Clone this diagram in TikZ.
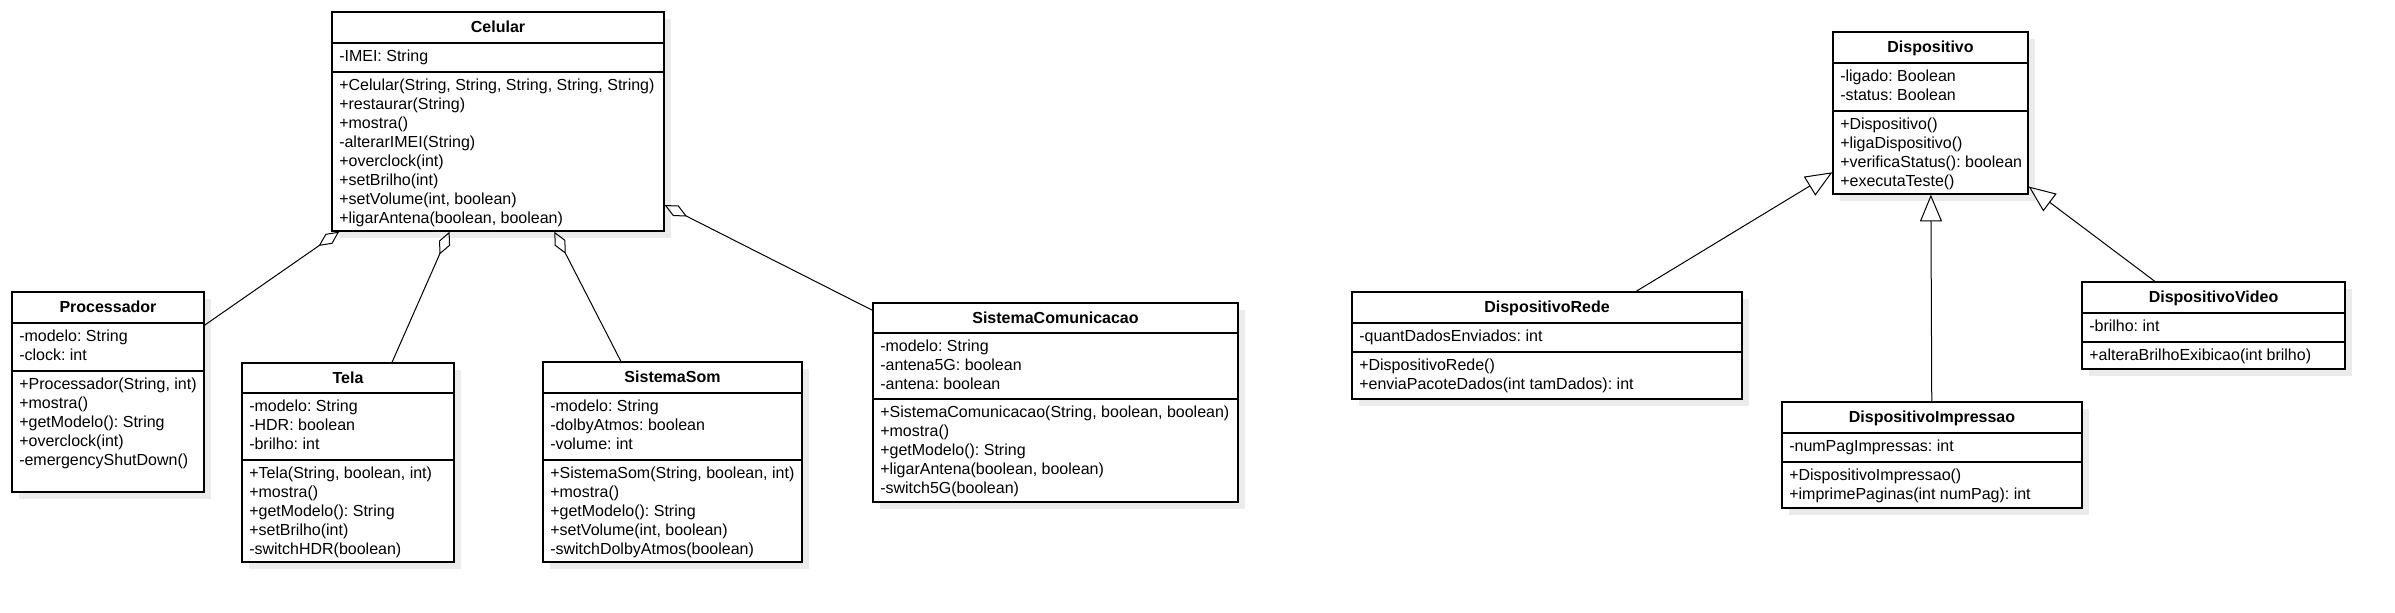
\documentclass[tikz,border=0pt]{standalone}
\usepackage{fontspec}
\setmainfont{Liberation Sans}
\frenchspacing
\usepackage{xcolor}
\definecolor{BoxShadow}{HTML}{EBEBEB}
\usepackage{tikz}
\usetikzlibrary{arrows.meta,fit,shadows}

\begin{document}
\begin{tikzpicture}[x=0.75pt,y=-0.75pt,
  every node/.style={font=\fontsize{12pt}{14pt}\selectfont, inner sep=0pt},
  classbox/.style={draw, line width=1pt, fill=white,
    drop shadow={shadow xshift=5pt, shadow yshift=-5pt, fill=BoxShadow, opacity=1}},
  sepline/.style={line width=1pt},
  classname/.style={font=\fontsize{12pt}{14pt}\selectfont\bfseries, anchor=base},
  member/.style={anchor=base west},
  aggr/.style={line width=0.75pt, -{Diamond[open, length=18.75pt, width=9pt]}},
  gener/.style={line width=0.75pt, -{Triangle[open, length=20pt, width=16.5pt]}}]
\useasboundingbox[fill=white] (0,0) rectangle (2395,612);

% class boxes, compartments and names
\foreach \n/\name/\xa/\ya/\xb/\yb/\sa/\sb in {
  celular/Celular/332/12/664/231/43/72,
  processador/Processador/12/292/204/492/323/371,
  tela/Tela/242/363/454/562/393/460,
  som/SistemaSom/543/362/802/562/393/460,
  comunicacao/SistemaComunicacao/873/303/1238/502/333/399,
  dispositivo/Dispositivo/1833/32/2028/194/63/111,
  rede/DispositivoRede/1352/292/1742/399/323/352,
  impressao/DispositivoImpressao/1782/402/2082/508/433/462,
  video/DispositivoVideo/2082/282/2345/369/313/342}{
  \node[classbox, fit={(\xa,\ya) (\xb,\yb)}] (\n) {};
  \draw[sepline] (\xa,\sa) -- (\xb,\sa) (\xa,\sb) -- (\xb,\sb);
  \node[classname] (\n-t) at ({(\xa+\xb)/2},{\ya+20.5}) {\name};
}

% Celular
\foreach \m [count=\i from 0] in {{-IMEI: String}}
  \node[member] (celular-a\i) at (339,{61.5+19*\i}) {\m};
\foreach \m [count=\i from 0] in {{+Celular(String, String, String, String, String)},{+restaurar(String)},{+mostra()},{-alterarIMEI(String)},{+overclock(int)},{+setBrilho(int)},{+setVolume(int, boolean)},{+ligarAntena(boolean, boolean)}}
  \node[member] (celular-m\i) at (339,{90.5+19*\i}) {\m};

% Processador
\foreach \m [count=\i from 0] in {{-modelo: String},{-clock: int}}
  \node[member] (processador-a\i) at (19,{341.5+19*\i}) {\m};
\foreach \m [count=\i from 0] in {{+Processador(String, int)},{+mostra()},{+getModelo(): String},{+overclock(int)},{-emergencyShutDown()}}
  \node[member] (processador-m\i) at (19,{389.5+19*\i}) {\m};

% Tela
\foreach \m [count=\i from 0] in {{-modelo: String},{-HDR: boolean},{-brilho: int}}
  \node[member] (tela-a\i) at (249,{411.5+19*\i}) {\m};
\foreach \m [count=\i from 0] in {{+Tela(String, boolean, int)},{+mostra()},{+getModelo(): String},{+setBrilho(int)},{-switchHDR(boolean)}}
  \node[member] (tela-m\i) at (249,{478.5+19*\i}) {\m};

% SistemaSom
\foreach \m [count=\i from 0] in {{-modelo: String},{-dolbyAtmos: boolean},{-volume: int}}
  \node[member] (som-a\i) at (550,{411.5+19*\i}) {\m};
\foreach \m [count=\i from 0] in {{+SistemaSom(String, boolean, int)},{+mostra()},{+getModelo(): String},{+setVolume(int, boolean)},{-switchDolbyAtmos(boolean)}}
  \node[member] (som-m\i) at (550,{478.5+19*\i}) {\m};

% SistemaComunicacao
\foreach \m [count=\i from 0] in {{-modelo: String},{-antena5G: boolean},{-antena: boolean}}
  \node[member] (comunicacao-a\i) at (880,{351.5+19*\i}) {\m};
\foreach \m [count=\i from 0] in {{+SistemaComunicacao(String, boolean, boolean)},{+mostra()},{+getModelo(): String},{+ligarAntena(boolean, boolean)},{-switch5G(boolean)}}
  \node[member] (comunicacao-m\i) at (880,{417.5+19*\i}) {\m};

% Dispositivo
\foreach \m [count=\i from 0] in {{-ligado: Boolean},{-status: Boolean}}
  \node[member] (dispositivo-a\i) at (1840,{81.5+19*\i}) {\m};
\foreach \m [count=\i from 0] in {{+Dispositivo()},{+ligaDispositivo()},{+verificaStatus(): boolean},{+executaTeste()}}
  \node[member] (dispositivo-m\i) at (1840,{129.5+19*\i}) {\m};

% DispositivoRede
\node[member] (rede-a0) at (1359,341.5) {-quantDadosEnviados: int};
\foreach \m [count=\i from 0] in {{+DispositivoRede()},{+enviaPacoteDados(int tamDados): int}}
  \node[member] (rede-m\i) at (1359,{370.5+19*\i}) {\m};

% DispositivoImpressao
\node[member] (impressao-a0) at (1789,451.5) {-numPagImpressas: int};
\foreach \m [count=\i from 0] in {{+DispositivoImpressao()},{+imprimePaginas(int numPag): int}}
  \node[member] (impressao-m\i) at (1789,{480.5+19*\i}) {\m};

% DispositivoVideo
\node[member] (video-a0) at (2089,331.5) {-brilho: int};
\node[member] (video-m0) at (2089,360.5) {+alteraBrilhoExibicao(int brilho)};

% aggregations
\foreach \part in {processador,tela,som,comunicacao}
  \draw[aggr] (\part) -- (celular);

% generalizations
\foreach \sub in {rede,impressao,video}
  \draw[gener] (\sub) -- (dispositivo);
\end{tikzpicture}
\end{document}
